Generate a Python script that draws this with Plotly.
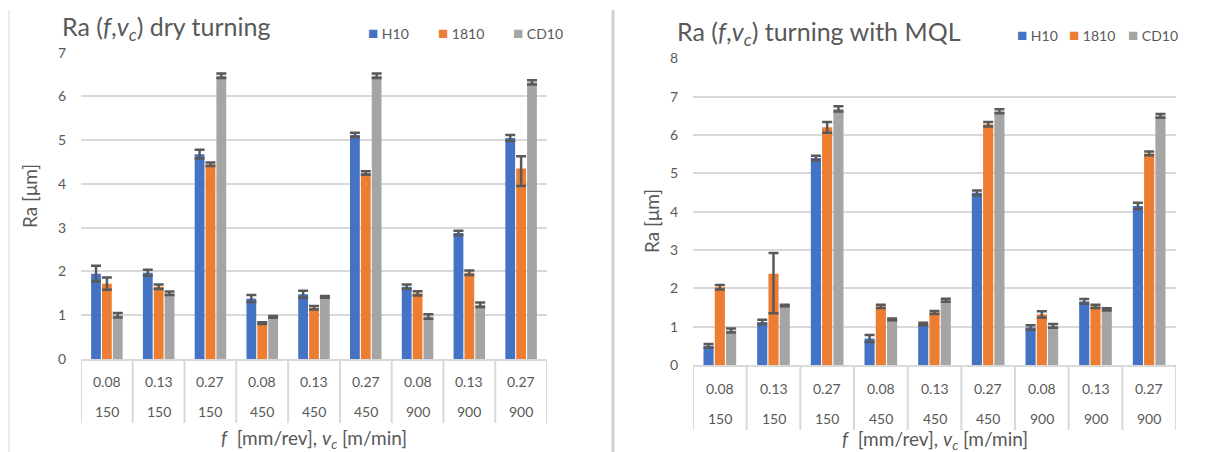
import plotly.graph_objects as go

# ---------------- data ----------------
feed_labels = ["0.08", "0.13", "0.27", "0.08", "0.13", "0.27", "0.08", "0.13", "0.27"]
speed_labels = ["150", "150", "150", "450", "450", "450", "900", "900", "900"]
series_names = ["H10", "1810", "CD10"]

# dry turning
dry_H10 = [1.95, 1.97, 4.68, 1.38, 1.48, 5.12, 1.65, 2.88, 5.05]
dry_1810 = [1.72, 1.65, 4.45, 0.82, 1.17, 4.25, 1.50, 1.97, 4.35]
dry_CD10 = [1.00, 1.50, 6.47, 0.96, 1.42, 6.47, 0.97, 1.24, 6.32]
dry_H10_err = [0.18, 0.07, 0.10, 0.08, 0.08, 0.05, 0.05, 0.05, 0.07]
dry_1810_err_plus = [0.14, 0.05, 0.04, 0.02, 0.04, 0.04, 0.05, 0.05, 0.28]
dry_1810_err_minus = [0.14, 0.05, 0.04, 0.02, 0.04, 0.04, 0.05, 0.05, 0.40]
dry_CD10_err = [0.05, 0.04, 0.05, 0.02, 0.02, 0.05, 0.05, 0.05, 0.05]

# turning with MQL
mql_H10 = [0.50, 1.12, 5.40, 0.69, 1.07, 4.49, 0.98, 1.66, 4.15]
mql_1810 = [2.03, 2.38, 6.20, 1.53, 1.37, 6.28, 1.32, 1.53, 5.52]
mql_CD10 = [0.90, 1.55, 6.68, 1.19, 1.69, 6.62, 1.02, 1.45, 6.50]
mql_H10_err = [0.05, 0.06, 0.06, 0.09, 0.03, 0.06, 0.06, 0.06, 0.08]
mql_1810_err_plus = [0.06, 0.54, 0.14, 0.04, 0.04, 0.06, 0.08, 0.04, 0.05]
mql_1810_err_minus = [0.06, 1.03, 0.14, 0.04, 0.04, 0.06, 0.08, 0.04, 0.05]
mql_CD10_err = [0.05, 0.02, 0.07, 0.02, 0.04, 0.05, 0.05, 0.03, 0.05]

# ---------------- styling ----------------
W, H = 1210, 452
COLORS = ["#4472C4", "#ED7D31", "#A5A5A5"]
TXT = "#595959"
GRID = "#d9d9d9"
FONT = "Lato, Open Sans, sans-serif"


def fx(p):
    return p / W


def fy(p):
    return min(1.0, max(0.0, 1 - p / H))


categories = [f"{f}|{v}" for f, v in zip(feed_labels, speed_labels)]

panels = [
    dict(
        title="Ra (<i>f</i>,<i>v<sub>c</sub></i>) dry turning",
        vals=[dry_H10, dry_1810, dry_CD10],
        errp=[dry_H10_err, dry_1810_err_plus, dry_CD10_err],
        errm=[dry_H10_err, dry_1810_err_minus, dry_CD10_err],
        xpx=(81, 547), ypx=(52.6, 359), ymax=7,
        title_pos=(60, 28), leg_x=[366, 436, 511], leg_y=32,
        row_y=(381, 411), box_bottom=423, xtitle_y=439, ytitle_pos=(29, 196),
    ),
    dict(
        title="Ra (<i>f</i>,<i>v<sub>c</sub></i>) turning with MQL",
        vals=[mql_H10, mql_1810, mql_CD10],
        errp=[mql_H10_err, mql_1810_err_plus, mql_CD10_err],
        errm=[mql_H10_err, mql_1810_err_minus, mql_CD10_err],
        xpx=(693, 1176), ypx=(58.3, 365), ymax=8,
        title_pos=(675, 33), leg_x=[1015, 1067, 1126], leg_y=35,
        row_y=(388, 418), box_bottom=430, xtitle_y=440, ytitle_pos=(652, 221),
    ),
]

fig = go.Figure()
annotations = []
shapes = []

for k, p in enumerate(panels):
    xa = "x" if k == 0 else "x2"
    ya = "y" if k == 0 else "y2"
    for s in range(3):
        fig.add_trace(go.Bar(
            x=categories, y=p["vals"][s], name=series_names[s],
            marker=dict(color=COLORS[s], line=dict(width=0)),
            error_y=dict(type="data", symmetric=False,
                         array=p["errp"][s], arrayminus=p["errm"][s],
                         color="#595959", thickness=2.5, width=5),
            xaxis=xa, yaxis=ya, showlegend=False, hoverinfo="skip",
        ))
    axis_x = dict(
        domain=[fx(p["xpx"][0]), fx(p["xpx"][1])], anchor=ya,
        type="category", categoryorder="array", categoryarray=categories,
        showticklabels=False, ticks="", showgrid=False,
        showline=True, linecolor=GRID, linewidth=2, zeroline=False,
        range=[-0.5, len(categories) - 0.5], fixedrange=True, automargin=False,
    )
    axis_y = dict(
        domain=[fy(p["ypx"][1]), fy(p["ypx"][0])], anchor=xa,
        range=[0, p["ymax"] + 0.0001], dtick=1, tick0=0,
        showgrid=True, gridcolor=GRID, gridwidth=2, zeroline=False,
        showline=False, ticks="", ticklabelstandoff=14, fixedrange=True,
        automargin=False,
        tickfont=dict(family=FONT, size=14, color=TXT),
    )
    if k == 0:
        fig.update_layout(xaxis=axis_x, yaxis=axis_y)
    else:
        fig.update_layout(xaxis2=axis_x, yaxis2=axis_y)

    # category boxes: vertical dividers below zero line
    for i in range(len(categories) + 1):
        shapes.append(dict(
            type="line", xref=xa, yref="paper",
            x0=i - 0.5, x1=i - 0.5, y0=fy(p["ypx"][1]), y1=fy(p["box_bottom"]),
            line=dict(color=GRID, width=2),
        ))
    # two rows of category labels
    for c, f, v in zip(categories, feed_labels, speed_labels):
        annotations.append(dict(x=c, xref=xa, y=fy(p["row_y"][0]), yref="paper",
                                xanchor="center", yanchor="middle",
                                text=f, showarrow=False,
                                font=dict(family=FONT, size=14, color=TXT)))
        annotations.append(dict(x=c, xref=xa, y=fy(p["row_y"][1]), yref="paper",
                                xanchor="center", yanchor="middle",
                                text=v, showarrow=False,
                                font=dict(family=FONT, size=14, color=TXT)))
    # axis titles
    annotations.append(dict(
        x=(fx(p["xpx"][0]) + fx(p["xpx"][1])) / 2, xref="paper",
        y=fy(p["xtitle_y"]), yref="paper", xanchor="center", yanchor="middle",
        showarrow=False,
        text="<i>f</i>  [mm/rev], <i>v<sub>c</sub></i> [m/min]",
        font=dict(family=FONT, size=19, color=TXT)))
    annotations.append(dict(
        x=fx(p["ytitle_pos"][0]), xref="paper", y=fy(p["ytitle_pos"][1]), yref="paper",
        xanchor="center", yanchor="middle",
        text="Ra [μm]", textangle=-90, showarrow=False,
        font=dict(family=FONT, size=19, color=TXT)))
    # chart title
    annotations.append(dict(
        x=fx(p["title_pos"][0]), xref="paper", y=fy(p["title_pos"][1]), yref="paper",
        xanchor="left", yanchor="middle", text=p["title"], showarrow=False,
        font=dict(family=FONT, size=25, color=TXT)))
    # legend
    for s in range(3):
        annotations.append(dict(
            x=fx(p["leg_x"][s]), xref="paper", y=fy(p["leg_y"]), yref="paper",
            xanchor="left", yanchor="middle", showarrow=False,
            text=(f"<span style='color:{COLORS[s]};font-size:17px'>■</span>"
                  f" {series_names[s]}"),
            font=dict(family=FONT, size=14, color=TXT)))

# panel borders
shapes.append(dict(type="line", xref="paper", yref="paper",
                   x0=fx(9), x1=fx(9), y0=fy(10), y1=0,
                   line=dict(color="#d9d9d9", width=1)))
shapes.append(dict(type="line", xref="paper", yref="paper",
                   x0=fx(613), x1=fx(613), y0=fy(10), y1=0,
                   line=dict(color="#cfcfcf", width=3)))

fig.update_layout(
    width=W, height=H,
    margin=dict(l=0, r=0, t=0, b=0, pad=0, autoexpand=False),
    paper_bgcolor="white", plot_bgcolor="white",
    barmode="group", bargap=0.37, bargroupgap=0.1,
    showlegend=False,
    annotations=annotations, shapes=shapes,
    font=dict(family=FONT, color=TXT),
)

fig.write_html("out.html", config={"displayModeBar": False},
               post_script="document.body.style.margin='0';")
